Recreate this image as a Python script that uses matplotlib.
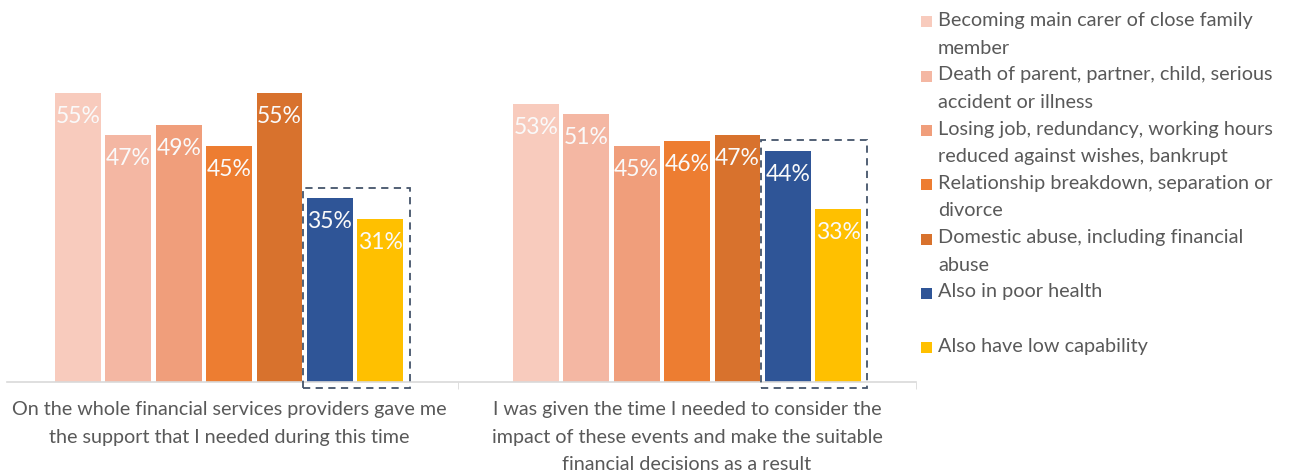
import matplotlib
matplotlib.use('Agg')
import matplotlib.pyplot as plt
from matplotlib.patches import Rectangle

CATEGORIES = [
    'On the whole financial services providers gave me\nthe support that I needed during this time',
    'I was given the time I needed to consider the\nimpact of these events and make the suitable\nfinancial decisions as a result',
]
SERIES = [
    'Becoming main carer of close family\nmember',
    'Death of parent, partner, child, serious\naccident or illness',
    'Losing job, redundancy, working hours\nreduced against wishes, bankrupt',
    'Relationship breakdown, separation or\ndivorce',
    'Domestic abuse, including financial\nabuse',
    'Also in poor health',
    'Also have low capability',
]
COLORS = ['#F8CBBD', '#F4B7A3', '#F09E7B', '#ED7D31', '#D8722D', '#2F5597', '#FFC000']
VALUES = [
    [55, 53],
    [47, 51],
    [49, 45],
    [45, 46],
    [55, 47],
    [35, 44],
    [31, 33],
]

plt.rcParams['font.family'] = ['Lato', 'DejaVu Sans']

W, H = 1290, 473
fig = plt.figure(figsize=(W / 100, H / 100), dpi=100)
ax = fig.add_axes([7 / W, 91 / H, 909 / W, 315 / H])

pitch = 0.11
width = 0.1
n = len(SERIES)
for i, (vals, color) in enumerate(zip(VALUES, COLORS)):
    xs = [c + (i - (n - 1) / 2) * pitch for c in range(len(CATEGORIES))]
    ax.bar(xs, vals, width=width, color=color, zorder=2)
    for x, v in zip(xs, vals):
        ax.text(x, v - 2.5, f'{v}%', ha='center', va='top', fontsize=16.5,
                color='#FAFAFA', zorder=3)

# dashed box around the last two series in each group
for c in range(len(CATEGORIES)):
    left = c + (n - 2 - (n - 1) / 2) * pitch - width / 2 - 0.008
    right = c + ((n - 1) / 2) * pitch + width / 2 + 0.014
    top = max(VALUES[-2][c], VALUES[-1][c]) + 2.0
    ax.add_patch(Rectangle((left, -1.2), right - left, top + 1.2, fill=False,
                           edgecolor='#44546A', linestyle=(0, (4, 3)), lw=1.3,
                           clip_on=False, zorder=4))

ax.set_xlim(-0.485, 1.5)
ax.set_ylim(0, 60)
ax.set_xticks(range(len(CATEGORIES)))
ax.set_xticklabels(CATEGORIES, fontsize=14.2, color='#595959', linespacing=1.72)
ax.tick_params(axis='x', length=0, pad=14)
ax.set_xticks([0.5, 1.5], minor=True)
ax.tick_params(axis='x', which='minor', length=5, color='#D9D9D9')
ax.set_yticks([])
for s in ['top', 'right', 'left']:
    ax.spines[s].set_visible(False)
ax.spines['bottom'].set_color('#D9D9D9')
ax.spines['bottom'].set_linewidth(1.2)

# legend drawn by hand so the marker sits on the first line
for i, (label, color) in enumerate(zip(SERIES, COLORS)):
    yc = 22 + 54.3 * i
    fig.patches.append(Rectangle((921 / W, 1 - (yc + 5.5) / H), 11 / W, 11 / H,
                                 transform=fig.transFigure, facecolor=color,
                                 edgecolor='none'))
    fig.text(938 / W, 1 - (yc - 10) / H, label, ha='left', va='top',
             fontsize=14.3, color='#595959', linespacing=1.75)

fig.savefig('out.png', dpi=100)
